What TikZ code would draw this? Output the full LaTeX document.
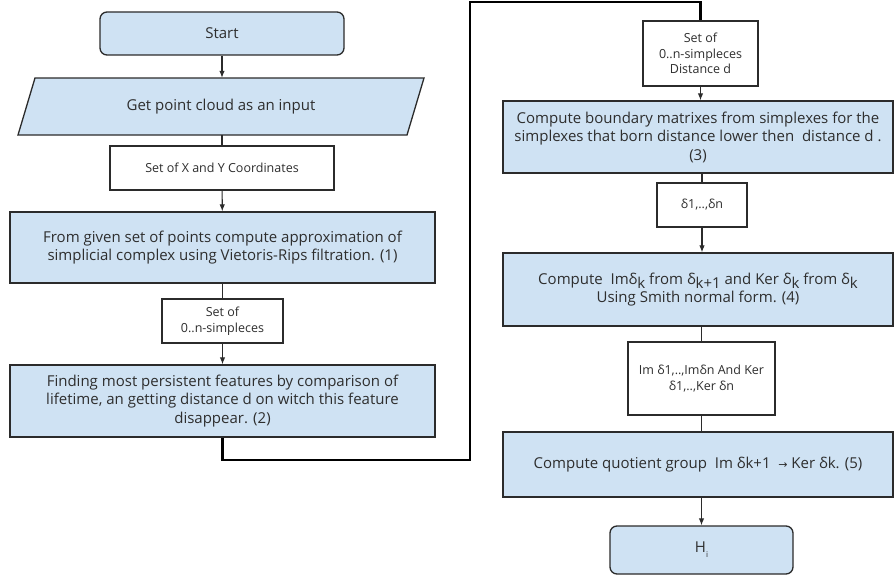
\documentclass[tikz,border=0pt]{standalone}
\usepackage{fontspec}
\setmainfont{Open Sans}
\newfontfamily\symfont{DejaVu Sans}
\usetikzlibrary{arrows.meta,calc}
\definecolor{boxfill}{HTML}{CFE2F3}
\definecolor{edge}{HTML}{2B2B2B}
\definecolor{txt}{HTML}{2E2E2E}
\newcommand{\lowsub}[1]{\raisebox{-0.5ex}{#1}}
\begin{document}
\begin{tikzpicture}[x=1pt,y=-1pt,
  proc/.style={draw=edge, line width=1.3pt, fill=boxfill, text=txt, align=center,
    inner sep=2pt, font=\fontsize{15}{18.5}\selectfont},
  data/.style={draw=edge, line width=1.3pt, fill=white, text=txt, align=center,
    inner sep=2pt, font=\fontsize{12.5}{15.5}\selectfont},
  term/.style={proc, rounded corners=7pt},
  arr/.style={draw=edge, line width=1.1pt, -{Latex[length=7pt,width=5.5pt]}},
  ln/.style={draw=edge, line width=1.1pt},
  thickln/.style={draw=black, line width=2.6pt}]
\useasboundingbox (0,0) rectangle (894,578);

% left column
\node[term, minimum width=244pt, minimum height=43pt] (start) at (222,33.5) {Start};
\filldraw[draw=edge, line width=1.3pt, fill=boxfill] (18,135) -- (35,78) -- (424,78) -- (407,135) -- cycle;
\node[text=txt, font=\fontsize{15}{18.5}\selectfont, minimum width=372pt, minimum height=57pt] (inp) at (221,106.5) {Get point cloud as an input};
\node[data, minimum width=224pt, minimum height=44pt] (xy) at (222,168) {Set of X and Y Coordinates};
\node[proc, minimum width=425pt, minimum height=71pt] (b1) at (222.5,247.5) {From given set of points compute approximation of\\simplicial complex using Vietoris-Rips filtration. (1)};
\node[data, minimum width=121pt, minimum height=44pt] (s1) at (222.5,321) {Set of\\0..n-simpleces};
\node[proc, minimum width=425pt, minimum height=72pt] (b2) at (222.5,401) {Finding most persistent features by comparison of\\lifetime, an getting distance d on witch this feature\\disappear. (2)};

% right column
\node[data, minimum width=115pt, minimum height=65pt] (s3) at (700.5,53.5) {Set of\\0..n-simpleces\\Distance d};
\node[proc, minimum width=390pt, minimum height=72pt] (b3) at (698,137) {Compute boundary matrixes from simplexes for the\\simplexes that born distance lower then\ \ distance d .\\(3)};
\node[data, minimum width=90pt, minimum height=44pt] (dl) at (702,205) {δ1,..,δn};
\node[proc, minimum width=390pt, minimum height=73pt] (b4) at (698,289.5) {Compute\ \ Imδ\lowsub{k} from δ\lowsub{k+1} and Ker δ\lowsub{k} from δ\lowsub{k}\\[-1pt]Using Smith normal form. (4)};
\node[data, minimum width=147pt, minimum height=73pt] (im) at (701.5,378.5) {Im δ1,..,Imδn And Ker\\δ1,..,Ker δn};
\node[proc, minimum width=390pt, minimum height=65pt] (b5) at (698,464.5) {Compute quotient group\ \ Im δk+1\ \ {\symfont\fontsize{11}{12}\selectfont →} Ker δk. (5)};
\node[term, minimum width=183pt, minimum height=48pt] (hi) at (701.5,550) {H\raisebox{-0.6ex}{\fontsize{8}{9}\selectfont i}};

% connectors left
\draw[arr] (start) -- (start|-inp.north);
\draw[ln] (start|-inp.south) -- (xy);
\draw[arr] (xy) -- (b1);
\draw[ln] (b1) -- (s1);
\draw[arr] (s1) -- (b2);

% crossing connector
\coordinate (c1) at (470,460);
\coordinate (c2) at (470,2);
\draw[thickln] (b2.south) |- (c1) -- (c2) -| (s3.north);

% connectors right
\draw[arr] (s3) -- (s3|-b3.north);
\draw[ln] (dl|-b3.south) -- (dl);
\draw[arr] (dl) -- (dl|-b4.north);
\draw[ln] (im|-b4.south) -- (im);
\draw[ln] (im) -- (im|-b5.north);
\draw[arr] (hi|-b5.south) -- (hi);
\end{tikzpicture}
\end{document}
